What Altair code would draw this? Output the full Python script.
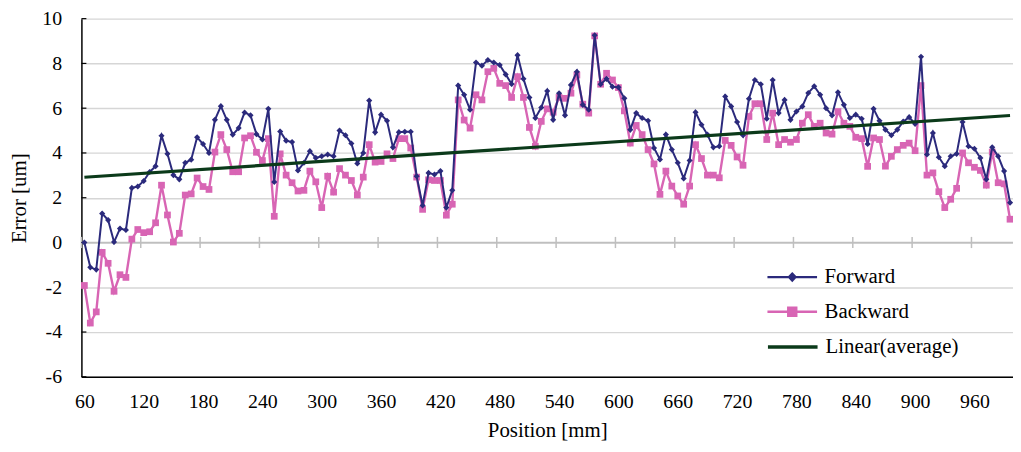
import altair as alt
import pandas as pd

positions = list(range(60, 997, 6))

forward = [
    0.0, -1.11, -1.21, 1.29, 1.0, 0.02, 0.62, 0.56, 2.44, 2.5,
    2.75, 3.15, 3.41, 4.77, 3.96, 3.01, 2.82, 3.56, 3.7, 4.7,
    4.4, 4.0, 5.48, 6.09, 5.48, 4.82, 5.11, 5.81, 5.68, 4.84,
    4.6, 5.97, 2.7, 4.96, 4.55, 4.49, 3.22, 3.56, 4.08, 3.78,
    3.85, 3.93, 3.85, 5.0, 4.79, 4.42, 3.53, 4.0, 6.34, 4.92,
    5.71, 5.44, 4.25, 4.93, 4.95, 4.95, 2.96, 1.65, 3.11, 3.04,
    3.19, 1.56, 2.33, 7.01, 6.6, 5.93, 8.04, 7.9, 8.15, 8.04,
    7.93, 7.51, 7.08, 8.37, 7.31, 6.48, 5.56, 6.03, 6.77, 5.48,
    6.67, 5.68, 7.04, 7.63, 6.15, 5.93, 9.26, 7.07, 7.31, 6.96,
    6.93, 6.44, 5.04, 5.78, 5.56, 5.44, 4.22, 3.71, 4.82, 4.15,
    3.56, 2.86, 3.66, 5.82, 5.26, 4.82, 4.25, 4.3, 6.52, 6.08,
    5.38, 4.79, 6.42, 7.26, 7.07, 5.53, 7.26, 5.78, 6.37, 5.48,
    5.85, 6.08, 6.68, 6.98, 6.6, 6.0, 5.68, 6.71, 6.15, 5.56,
    5.71, 5.53, 4.4, 5.97, 5.44, 5.04, 4.79, 5.04, 5.4, 5.6,
    5.3, 8.3, 3.93, 4.89, 3.81, 3.41, 3.85, 3.96, 5.38, 4.3,
    4.19, 3.78, 2.82, 4.25, 3.85, 3.19, 1.78,
]

backward = [
    -1.92, -3.6, -3.1, -0.44, -0.93, -2.18, -1.44, -1.56, 0.15, 0.58,
    0.44, 0.48, 0.88, 2.56, 1.23, 0.02, 0.41, 2.12, 2.17, 2.88,
    2.5, 2.37, 4.04, 4.82, 4.15, 3.16, 3.16, 4.67, 4.77, 4.03,
    3.66, 4.64, 1.17, 3.96, 3.01, 2.67, 2.3, 2.33, 3.19, 2.71,
    1.56, 2.96, 2.25, 3.3, 3.01, 2.77, 2.12, 2.92, 4.37, 3.59,
    3.62, 3.96, 3.75, 4.64, 4.64, 4.22, 2.92, 1.48, 2.8, 2.77,
    2.77, 1.22, 1.71, 6.37, 5.47, 5.11, 6.6, 6.37, 7.63, 7.78,
    7.11, 7.01, 6.48, 7.41, 6.48, 5.14, 4.3, 5.41, 5.97, 5.82,
    6.48, 6.44, 6.67, 7.48, 6.18, 5.78, 9.23, 7.07, 7.56, 7.26,
    6.92, 5.88, 4.44, 5.23, 4.82, 4.15, 3.51, 2.15, 3.19, 2.52,
    2.08, 1.71, 2.52, 4.37, 3.75, 3.01, 3.01, 2.89, 4.56, 4.34,
    3.82, 3.45, 5.63, 6.2, 6.2, 4.6, 5.78, 4.37, 4.6, 4.48,
    4.6, 5.33, 5.71, 5.19, 5.33, 4.89, 4.84, 5.85, 5.33, 5.19,
    4.7, 4.64, 3.4, 4.67, 4.6, 3.41, 3.85, 4.15, 4.34, 4.44,
    4.1, 7.01, 3.01, 3.11, 2.27, 1.56, 1.93, 2.42, 4.0, 3.56,
    3.36, 3.22, 2.56, 4.04, 2.67, 2.62, 1.04,
]

x_tick_labels = [60, 120, 180, 240, 300, 360, 420, 480, 540, 600, 660, 720, 780, 840, 900, 960]
x_tick_marks = [57, 117, 177, 237, 297, 357, 417, 477, 537, 597, 657, 717, 777, 837, 897, 957]
y_ticks = [-6, -4, -2, 0, 2, 4, 6, 8, 10]
NAVY, PINK, GREEN = "#2B2A7C", "#D865B4", "#0B3A1A"

FONT = "Liberation Serif"
W, H = 939, 361

df = pd.DataFrame({"Position": positions, "Forward": forward, "Backward": backward})

xscale = alt.Scale(domain=[57, 999], nice=False, zero=False)
yscale = alt.Scale(domain=[-6, 10], nice=False, zero=False)


def make_legend(path, y, fillc, strokec, sw):
    return alt.Legend(
        title=None,
        orient="none",
        legendX=720,
        legendY=y,
        padding=0,
        symbolSize=400,
        symbolType=path,
        symbolFillColor=fillc,
        symbolStrokeColor=strokec,
        symbolStrokeWidth=sw,
        symbolOpacity=1,
        labelFont=FONT,
        labelFontSize=21,
        labelColor="black",
        labelOffset=6,
    )


leg_f = make_legend("M-4,0H1M-1.5,-0.36L-1.16,0L-1.5,0.36L-1.84,0Z", 249, NAVY, NAVY, 2.2)
leg_b = make_legend("M-4,0H1M-1.9,-0.4H-1.1V0.4H-1.9Z", 284, PINK, PINK, 2.5)
leg_t = make_legend("M-4,0H1", 319, GREEN, GREEN, 3.5)

xenc = alt.X(
    "Position:Q",
    scale=xscale,
    axis=alt.Axis(
        values=x_tick_labels,
        labelExpr="'' + datum.value",
        title="Position [mm]",
        grid=False,
        ticks=False,
        domain=True,
        domainColor="black",
        domainWidth=1.5,
        labelPadding=15,
        titlePadding=8,
        labelFont=FONT,
        labelFontSize=20,
        labelColor="black",
        titleFont=FONT,
        titleFontSize=21,
        titleFontWeight="normal",
        titleColor="black",
    ),
)
yaxis = alt.Axis(
    values=y_ticks,
    labelExpr="'' + datum.value",
    title="Error [um]",
    grid=True,
    gridColor="#D6D6D6",
    gridWidth=1.4,
    ticks=False,
    domain=True,
    domainColor="black",
    domainWidth=1.5,
    labelPadding=20,
    titlePadding=12,
    labelFont=FONT,
    labelFontSize=20,
    labelColor="black",
    titleFont=FONT,
    titleFontSize=21,
    titleFontWeight="normal",
    titleColor="black",
)

base = alt.Chart(df)

grid_layer = base.mark_rule(opacity=0).encode(
    x=xenc, y=alt.Y("Forward:Q", scale=yscale, axis=yaxis)
)

zero_df = pd.DataFrame({"v": [0]})
zero_line = alt.Chart(zero_df).mark_rule(color="#BFBFBF", strokeWidth=1.5).encode(
    y=alt.Y("v:Q", scale=yscale), x=alt.value(0), x2=alt.value(W)
)
tick_df = pd.DataFrame({"t": x_tick_marks})
zero_ticks = alt.Chart(tick_df).mark_rule(color="#BFBFBF", strokeWidth=1.5).encode(
    x=alt.X("t:Q", scale=xscale),
    y=alt.datum(-0.25, scale=yscale),
    y2=alt.datum(0.25),
)
ytick_df = pd.DataFrame({"v": y_ticks})
y_inner_ticks = alt.Chart(ytick_df).mark_rule(color="black", strokeWidth=1.2).encode(
    y=alt.Y("v:Q", scale=yscale), x=alt.value(0), x2=alt.value(5)
)

fwd_line = base.transform_calculate(sf="'Forward'").mark_line(strokeWidth=2).encode(
    x=alt.X("Position:Q", scale=xscale),
    y=alt.Y("Forward:Q", scale=yscale),
    stroke=alt.Stroke("sf:N", scale=alt.Scale(domain=["Forward"], range=[NAVY]), legend=leg_f),
)
fwd_pts = base.mark_point(shape="diamond", filled=True, size=38, opacity=1, color=NAVY).encode(
    x=alt.X("Position:Q", scale=xscale), y=alt.Y("Forward:Q", scale=yscale)
)
bwd_line = base.transform_calculate(sb="'Backward'").mark_line(strokeWidth=2.4).encode(
    x=alt.X("Position:Q", scale=xscale),
    y=alt.Y("Backward:Q", scale=yscale),
    color=alt.Color("sb:N", scale=alt.Scale(domain=["Backward"], range=[PINK]), legend=leg_b),
)
bwd_pts = base.mark_point(shape="square", filled=True, size=46, opacity=1, color=PINK).encode(
    x=alt.X("Position:Q", scale=xscale), y=alt.Y("Backward:Q", scale=yscale)
)
trend = (
    base.transform_calculate(avg="(datum.Forward + datum.Backward) / 2")
    .transform_regression("Position", "avg")
    .transform_calculate(st="'Linear(average)'")
    .mark_line(strokeWidth=3.2, color=GREEN)
    .encode(
        x=alt.X("Position:Q", scale=xscale),
        y=alt.Y("avg:Q", scale=yscale),
        opacity=alt.Opacity("st:N", scale=alt.Scale(domain=["Linear(average)"], range=[1]), legend=leg_t),
    )
)

chart = (
    alt.layer(grid_layer, zero_line, zero_ticks, y_inner_ticks, bwd_line, bwd_pts, fwd_line, fwd_pts, trend)
    .resolve_scale(color="independent", stroke="independent", opacity="independent")
    .properties(
        width=W,
        height=H,
        background="white",
        autosize=alt.AutoSizeParams(type="none"),
        padding={"left": 74, "top": 9, "right": 0, "bottom": 66},
    )
    .configure_view(stroke=None)
)

chart.save("out.html", embed_options={"renderer": "svg", "actions": False})
